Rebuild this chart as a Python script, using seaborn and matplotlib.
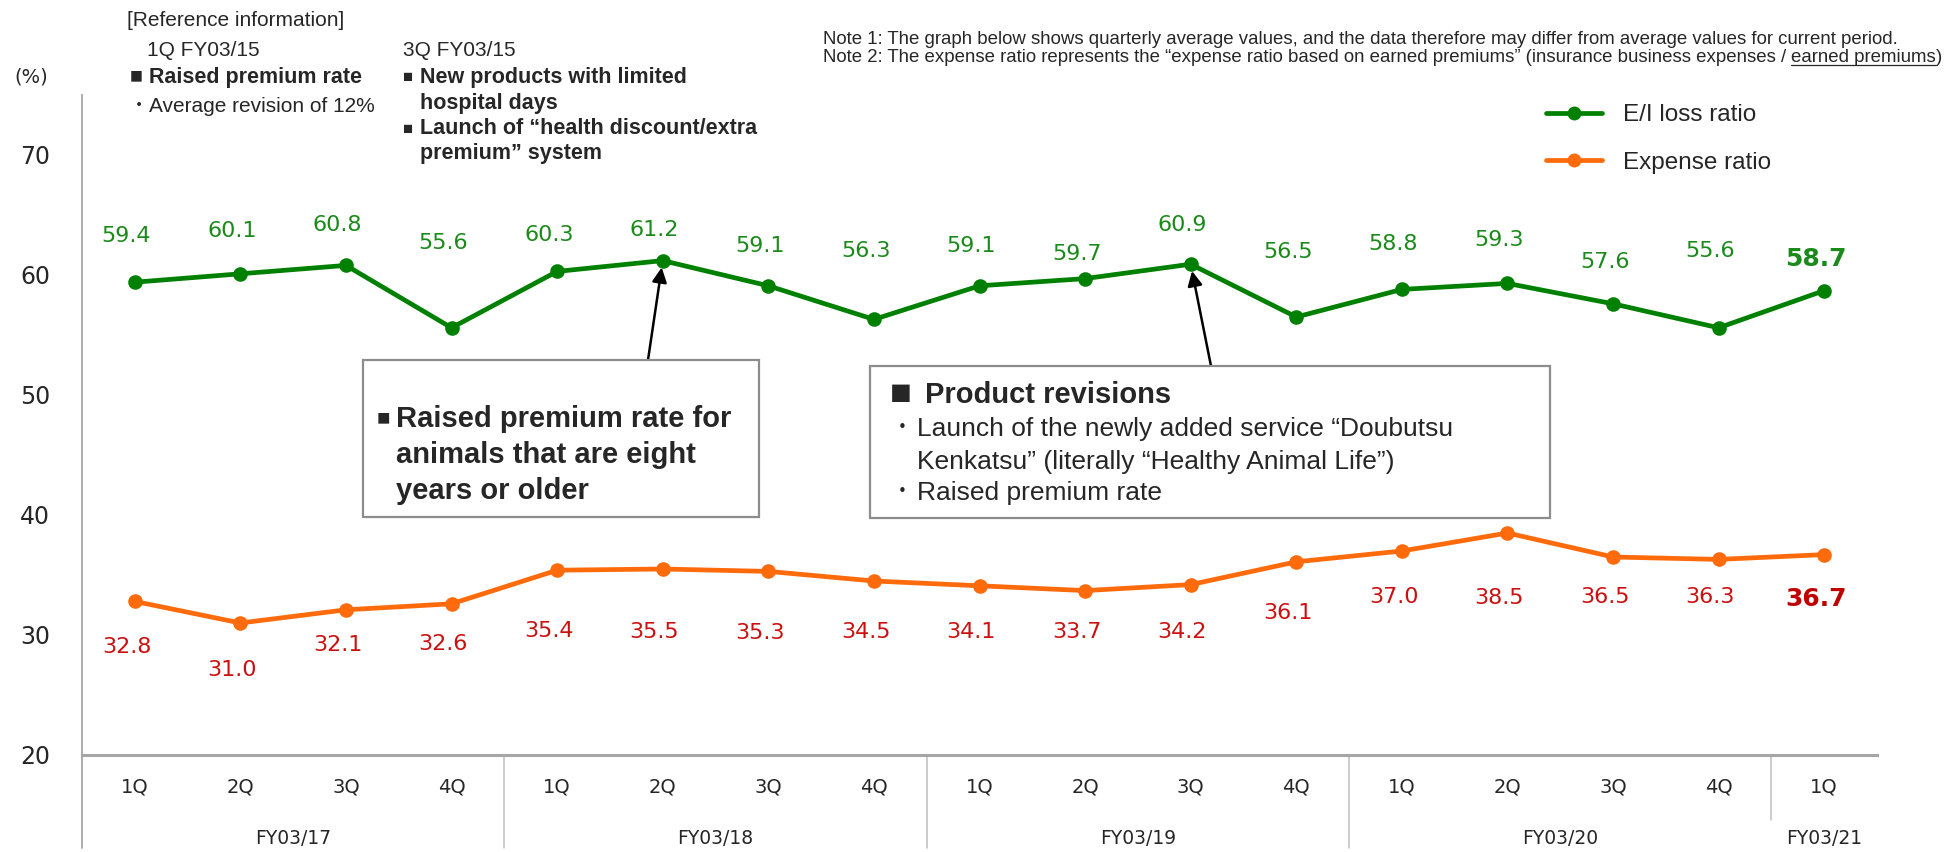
import matplotlib
matplotlib.use("Agg")
import matplotlib.pyplot as plt
import matplotlib.transforms as mtransforms
from matplotlib.patches import Rectangle
from matplotlib.lines import Line2D
import seaborn as sns
import pandas as pd
import numpy as np

# ---------------- data ----------------
quarters = ["1Q", "2Q", "3Q", "4Q", "1Q", "2Q", "3Q", "4Q", "1Q", "2Q", "3Q", "4Q",
            "1Q", "2Q", "3Q", "4Q", "1Q"]
fiscal_years = ["FY03/17", "FY03/18", "FY03/19", "FY03/20", "FY03/21"]
fy_sizes = [4, 4, 4, 4, 1]
el_ratio = [59.4, 60.1, 60.8, 55.6, 60.3, 61.2, 59.1, 56.3, 59.1, 59.7, 60.9, 56.5,
            58.8, 59.3, 57.6, 55.6, 58.7]
expense_ratio = [32.8, 31.0, 32.1, 32.6, 35.4, 35.5, 35.3, 34.5, 34.1, 33.7, 34.2, 36.1,
                 37.0, 38.5, 36.5, 36.3, 36.7]
series_names = ["E/I loss ratio", "Expense ratio"]
y_ticks = [20, 30, 40, 50, 60, 70]

# label layout offsets (points) – styling only
el_label_dy = [33, 31, 29, 61, 26, 22, 29, 49, 29, 18, 28, 47, 33, 31, 30, 55, 23]
ex_label_dy = [-33, -34, -25, -29, -44, -45, -44, -37, -33, -30, -34, -37, -33, -47, -29, -27, -32]
label_dx = -6

W, H, DPI = 1947, 852, 100
GREEN = "#008000"
ORANGE = "#FF6A0A"
GREEN_TXT = "#1B8A1B"
RED_TXT = "#CC1010"
GRAY = "#A6A6A6"
TXT = "#262626"

sns.set_style("white")
plt.rcParams["font.family"] = ["Liberation Sans", "Noto Sans CJK JP", "DejaVu Sans"]

fig = plt.figure(figsize=(W / DPI, H / DPI), dpi=DPI)
ax = fig.add_axes([82 / W, 1 - 755 / H, (1877 - 82) / W, (755 - 95) / H])

n = len(quarters)
df = pd.DataFrame({
    "pos": list(range(n)) * 2,
    "value": el_ratio + expense_ratio,
    "series": [series_names[0]] * n + [series_names[1]] * n,
})
palette = {series_names[0]: GREEN, series_names[1]: ORANGE}
sns.lineplot(data=df, x="pos", y="value", hue="series", palette=palette,
             marker="o", markersize=10.5, markeredgewidth=0, linewidth=3.4,
             ax=ax, legend=False, zorder=3)

ax.set_xlim(-0.5, n - 0.5)
ax.set_ylim(20, 75)
ax.set_yticks(y_ticks)
ax.set_yticklabels([str(t) for t in y_ticks], fontfamily="DejaVu Sans", fontsize=17, color=TXT)
ax.set_xticks(range(n))
ax.set_xticklabels(quarters, fontfamily="DejaVu Sans", fontsize=14, color=TXT)
ax.tick_params(axis="x", length=0, pad=16)
ax.tick_params(axis="y", length=0, pad=23)
ax.set_xlabel("")
ax.set_ylabel("")
for s in ["top", "right"]:
    ax.spines[s].set_visible(False)
ax.spines["left"].set_color(GRAY)
ax.spines["left"].set_linewidth(1.3)
ax.spines["bottom"].set_color(GRAY)
ax.spines["bottom"].set_linewidth(2.2)
ax.grid(False)

trans = mtransforms.blended_transform_factory(ax.transData, ax.transAxes)
# extend left axis down
ax.plot([-0.5, -0.5], [0, -0.141], transform=trans, color=GRAY, lw=1.3, clip_on=False)
# group separators and FY labels
start = 0
for i, (fy, size) in enumerate(zip(fiscal_years, fy_sizes)):
    center = start + (size - 1) / 2
    ax.text(center, -0.126, fy, transform=trans, ha="center", va="center",
            fontfamily="DejaVu Sans", fontsize=13.5, color=TXT)
    end = start + size
    if end < n:
        bottom = -0.098 if fy_sizes[i + 1] == 1 else -0.141
        ax.plot([end - 0.5, end - 0.5], [0, bottom], transform=trans,
                color="#BFBFBF", lw=1.1, clip_on=False)
    start = end

# data labels
for i, v in enumerate(el_ratio):
    last = i == n - 1
    ax.annotate(f"{v:.1f}", xy=(i, v), xytext=(label_dx, el_label_dy[i]), textcoords="offset points",
                ha="center", va="center", fontfamily="DejaVu Sans",
                fontsize=18 if last else 16, fontweight="bold" if last else "normal",
                color=GREEN_TXT)
for i, v in enumerate(expense_ratio):
    last = i == n - 1
    ax.annotate(f"{v:.1f}", xy=(i, v), xytext=(label_dx, ex_label_dy[i]), textcoords="offset points",
                ha="center", va="center", fontfamily="DejaVu Sans",
                fontsize=18 if last else 16, fontweight="bold" if last else "normal",
                color="#C00000" if last else RED_TXT)

# legend
handles = [Line2D([], [], color=palette[s], lw=3.4, marker="o", markersize=10, markeredgewidth=0)
           for s in series_names]
fig.legend(handles, series_names, loc="upper left", bbox_to_anchor=(1546 / W, 1 - 104 / H),
           frameon=False, fontsize=17.5, handlelength=2.3, handletextpad=0.85,
           labelspacing=1.05, borderpad=0, borderaxespad=0)


def ftext(x, y, s, **kw):
    kw.setdefault("va", "center")
    kw.setdefault("ha", "left")
    kw.setdefault("color", TXT)
    return fig.text(x / W, 1 - y / H, s, **kw)


# y unit
ftext(31, 77, "(%)", ha="center", fontfamily="DejaVu Sans", fontsize=14)

# reference info (top left)
ftext(127, 20, "[Reference information]", fontsize=15)
ftext(147, 50, "1Q FY03/15", fontsize=15)
ftext(130, 77, "■ Raised premium rate", fontsize=15.5, fontweight="bold")
ftext(130, 106, "・", fontsize=13)
ftext(149, 106, "Average revision of 12%", fontsize=15)
ftext(403, 50, "3Q FY03/15", fontsize=15)
ftext(403, 77, "■", fontsize=12)
ftext(420, 77, "New products with limited", fontsize=15.5, fontweight="bold")
ftext(420, 103, "hospital days", fontsize=15.5, fontweight="bold")
ftext(403, 129, "■", fontsize=12)
ftext(420, 129, "Launch of “health discount/extra", fontsize=15.5, fontweight="bold")
ftext(420, 153, "premium” system", fontsize=15.5, fontweight="bold")

# notes (top right)
note_fs = 13.4
ftext(823, 39, "Note 1: The graph below shows quarterly average values, and the data therefore may differ from average values for current period.",
      fontsize=note_fs)
p1 = ftext(823, 57, "Note 2: The expense ratio represents the “expense ratio based on earned premiums” (insurance business expenses / ",
           fontsize=note_fs)
fig.canvas.draw()
r = fig.canvas.get_renderer()
bb = p1.get_window_extent(renderer=r)
p2 = fig.text(bb.x1 / W, 1 - 57 / H, "earned premiums", fontsize=note_fs, va="center", ha="left", color=TXT)
bb2 = p2.get_window_extent(renderer=r)
fig.text(bb2.x1 / W, 1 - 57 / H, ")", fontsize=note_fs, va="center", ha="left", color=TXT)
fig.add_artist(Line2D([bb2.x0 / W, bb2.x1 / W], [(bb2.y0 + 1) / H, (bb2.y0 + 1) / H],
                      transform=fig.transFigure, color=TXT, lw=0.9))

# annotation box 1
fig.add_artist(Rectangle((363 / W, 1 - 517 / H), (759 - 363) / W, (517 - 360) / H,
                         transform=fig.transFigure, facecolor="white", edgecolor="#8C8C8C",
                         lw=1.6, zorder=4))
ftext(377, 419, "■", fontsize=16, zorder=5)
ftext(396, 419, "Raised premium rate for", fontsize=21, fontweight="bold", zorder=5)
ftext(396, 455, "animals that are eight", fontsize=21, fontweight="bold", zorder=5)
ftext(396, 491, "years or older", fontsize=21, fontweight="bold", zorder=5)
ax.annotate("", xy=(5, el_ratio[5]), xycoords="data",
            xytext=(648 / W, 1 - 360 / H), textcoords="figure fraction",
            arrowprops=dict(arrowstyle="-|>", color="black", lw=1.8, shrinkA=0, shrinkB=5,
                            mutation_scale=22), zorder=6)

# annotation box 2
fig.add_artist(Rectangle((870 / W, 1 - 518 / H), (1550 - 870) / W, (518 - 366) / H,
                         transform=fig.transFigure, facecolor="white", edgecolor="#8C8C8C",
                         lw=1.6, zorder=4))
ftext(890, 395, "■", fontsize=26, zorder=5)
ftext(925, 395, "Product revisions", fontsize=21, fontweight="bold", zorder=5)
ftext(892, 429, "・", fontsize=15, zorder=5)
ftext(917, 429, "Launch of the newly added service “Doubutsu", fontsize=19, zorder=5)
ftext(917, 462, "Kenkatsu” (literally “Healthy Animal Life”)", fontsize=19, zorder=5)
ftext(892, 493, "・", fontsize=15, zorder=5)
ftext(917, 493, "Raised premium rate", fontsize=19, zorder=5)
ax.annotate("", xy=(10, el_ratio[10]), xycoords="data",
            xytext=(1211 / W, 1 - 366 / H), textcoords="figure fraction",
            arrowprops=dict(arrowstyle="-|>", color="black", lw=1.8, shrinkA=0, shrinkB=5,
                            mutation_scale=22), zorder=6)

fig.savefig("out.png", dpi=DPI)
